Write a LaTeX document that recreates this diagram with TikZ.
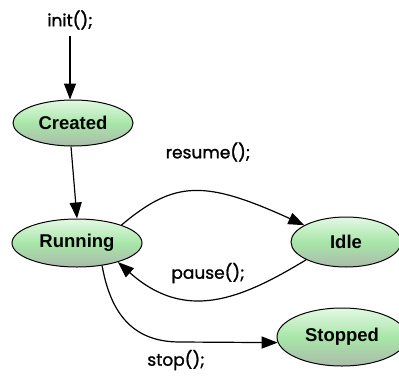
\documentclass[tikz,border=0pt]{standalone}
\usepackage{fontspec}
\setmainfont{Liberation Sans}
\newfontfamily\labelfont[FakeBold=1.2]{Poppins}
\usetikzlibrary{shapes.geometric,arrows.meta}
\definecolor{statetop}{HTML}{E4F8E4}
\definecolor{statemid}{HTML}{A8E6A8}
\definecolor{statebot}{HTML}{ABBBAB}
\tikzset{
  state/.style={ellipse, draw=black, line width=1pt, inner sep=0pt,
    top color=statetop, bottom color=statebot, middle color=statemid,
    font=\fontsize{18.5}{22}\selectfont\bfseries},
  trans/.style={line width=1.2pt, -{Triangle[length=16pt,width=12pt]}},
  action/.style={font=\labelfont\fontsize{17}{20}\selectfont}
}
\begin{document}
\begin{tikzpicture}[x=1pt,y=-1pt]
  \useasboundingbox[fill=white] (0,0) rectangle (399,378);

  % states
  \node[state, minimum width=120pt, minimum height=46pt] (created) at (73,123) {Created};
  \node[state, minimum width=130pt, minimum height=48pt] (running) at (77,243) {Running};
  \node[state, minimum width=110pt, minimum height=50pt] (idle) at (346,242) {Idle};
  \node[state, minimum width=130pt, minimum height=58pt] (stopped) at (342,337) {Stopped};

  % method labels
  \node[action] (init) at (70,20) {init();};
  \node[action] (resume) at (208,152) {resume();};
  \node[action] (pause) at (208,273) {pause();};
  \node[action] (stop) at (176,360) {stop();};

  % transitions
  \draw[trans, shorten <=3pt] (init.south) -- (created.north -| init.south);
  \draw[trans] ([xshift=-2pt]created.south) -- (running.north);
  \draw[trans] (running.22) .. controls (175,180) and (205,180) .. (idle.158);
  \draw[trans] (idle.204) .. controls (240,300) and (185,322) .. (running.335);
  \draw[trans] (running.318) .. controls (112,322) and (140,342) .. (180,342) -- (stopped.185);
\end{tikzpicture}
\end{document}
